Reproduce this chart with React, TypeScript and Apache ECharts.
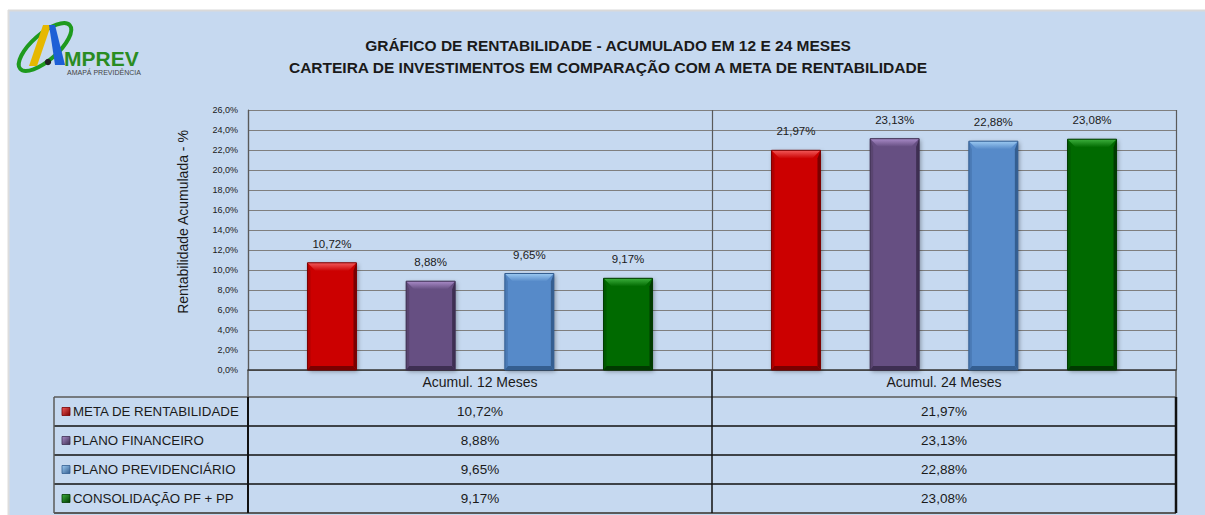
import React, { useEffect, useRef } from "react";
import * as echarts from "echarts";

const categories = ["Acumul. 12 Meses", "Acumul. 24 Meses"];
const seriesNames = [
  "META DE RENTABILIDADE",
  "PLANO FINANCEIRO",
  "PLANO PREVIDENCIÁRIO",
  "CONSOLIDAÇÃO PF + PP",
];
const metaRentabilidade = [10.72, 21.97];
const planoFinanceiro = [8.88, 23.13];
const planoPrevidenciario = [9.65, 22.88];
const consolidacao = [9.17, 23.08];
const seriesValues = [metaRentabilidade, planoFinanceiro, planoPrevidenciario, consolidacao];

const titleLines = [
  "GRÁFICO DE RENTABILIDADE - ACUMULADO EM 12 E 24 MESES",
  "CARTEIRA DE INVESTIMENTOS EM COMPARAÇÃO COM A META DE RENTABILIDADE",
];
const yAxisName = "Rentabilidade Acumulada - %";
const yMin = 0;
const yMax = 26;
const yInterval = 2;

const palette = [
  { main: "#CC0404", light: "#F25A5A", side: "#B00000", dark: "#7A0000" },
  { main: "#664F82", light: "#A98BC8", side: "#594570", dark: "#3E2F52" },
  { main: "#568AC9", light: "#9CCAF2", side: "#4A7AB5", dark: "#345E90" },
  { main: "#016A01", light: "#3DB03D", side: "#005A00", dark: "#003A00" },
];

const FONT = '"Liberation Sans", Arial, sans-serif';
const fmt = (v: number) => v.toFixed(2).replace(".", ",") + "%";

// layout
const GRID_LEFT = 248;
const GRID_RIGHT_X = 1176;
const GRID_TOP = 110;
const GRID_BOTTOM_Y = 370;
const W = 1205;
const H = 515;

const makeRender = (si: number) => (params: any, api: any) => {
  const cat = api.value(0);
  const val = api.value(1);
  const top = api.coord([cat, val]);
  const base = api.coord([cat, 0]);
  const band = api.size([1, 0])[0];
  const step = band * 0.2127;
  const w = band * 0.1056;
  const cx = top[0] + (si - 1.5) * step;
  const x0 = cx - w / 2;
  const x1 = cx + w / 2;
  const y0 = top[1];
  const y1 = base[1];
  const h = y1 - y0;
  const bv = 8;
  const sv = 3;
  const bb = 4;
  const p = palette[si];
  return {
    type: "group",
    children: [
      {
        type: "rect",
        shape: { x: x0, y: y0, width: w, height: h },
        style: {
          fill: p.main,
          shadowBlur: 4,
          shadowColor: "rgba(0,0,0,0.35)",
          shadowOffsetX: 1.5,
          shadowOffsetY: 1.5,
        },
      },
      {
        type: "polygon",
        shape: { points: [[x0, y0], [x0 + sv, y0 + bv], [x0 + sv, y1 - bb], [x0, y1]] },
        style: { fill: p.side },
      },
      {
        type: "polygon",
        shape: { points: [[x1, y0], [x1 - sv, y0 + bv], [x1 - sv, y1 - bb], [x1, y1]] },
        style: { fill: p.dark },
      },
      {
        type: "polygon",
        shape: { points: [[x0, y1], [x0 + sv, y1 - bb], [x1 - sv, y1 - bb], [x1, y1]] },
        style: { fill: p.dark },
      },
      {
        type: "polygon",
        shape: { points: [[x0, y0], [x1, y0], [x1 - bv, y0 + bv], [x0 + bv, y0 + bv]] },
        style: {
          fill: new echarts.graphic.LinearGradient(0, 0, 0, 1, [
            { offset: 0, color: p.light },
            { offset: 1, color: p.main },
          ]),
        },
      },
      {
        type: "rect",
        shape: { x: x0, y: y0, width: w, height: h },
        style: { fill: "none", stroke: p.dark, lineWidth: 1 },
      },
      {
        type: "text",
        x: cx,
        y: y0 - 19,
        style: {
          text: fmt(val),
          align: "center",
          verticalAlign: "middle",
          fill: "#1a1a1a",
          font: `11.5px ${FONT}`,
        },
      },
    ],
  };
};

export default function App() {
  const ref = useRef<HTMLDivElement>(null);

  useEffect(() => {
    if (!ref.current) return;
    const chart = echarts.init(ref.current, undefined, { renderer: "svg" });

    const bandW = (GRID_RIGHT_X - GRID_LEFT) / categories.length;
    const colCenters = categories.map((_, i) => GRID_LEFT + bandW * (i + 0.5));
    const rowTops = [397, 426, 455, 484, 513];
    const rowCenters = [0, 1, 2, 3].map((i) => (rowTops[i] + rowTops[i + 1]) / 2);

    const graphics: any[] = [];
    // page frame
    graphics.push(
      { type: "rect", shape: { x: 0, y: 0, width: W, height: 10 }, style: { fill: "#ffffff" }, silent: true },
      { type: "rect", shape: { x: 0, y: 0, width: 8, height: H }, style: { fill: "#ffffff" }, silent: true },
      { type: "line", shape: { x1: 8, y1: 10.5, x2: W, y2: 10.5 }, style: { stroke: "#D9D9D9", lineWidth: 2 } },
      { type: "line", shape: { x1: 8.5, y1: 10, x2: 8.5, y2: H }, style: { stroke: "#DDDDDD", lineWidth: 2 } }
    );
    // logo
    graphics.push(
      {
        type: "ellipse",
        shape: { cx: 0, cy: 0, rx: 33, ry: 13 },
        x: 45,
        y: 47,
        rotation: 0.72,
        style: { fill: "none", stroke: "#1E9A1E", lineWidth: 4 },
      },
      {
        type: "polygon",
        shape: { points: [[43, 25], [51, 25], [37, 66], [29, 66]] },
        style: { fill: "#E6B800" },
      },
      {
        type: "polygon",
        shape: { points: [[49, 25], [55, 25], [65, 65], [55, 65]] },
        style: { fill: "#1D5FD6" },
      },
      { type: "circle", shape: { cx: 48, cy: 62, r: 3.2 }, style: { fill: "#222" } },
      {
        type: "text",
        x: 64,
        y: 58,
        style: { text: "MPREV", font: `bold 21px ${FONT}`, fill: "#2A8C22", verticalAlign: "middle" },
      },
      {
        type: "text",
        x: 67,
        y: 72,
        style: { text: "AMAPÁ PREVIDÊNCIA", font: `7px ${FONT}`, fill: "#444", verticalAlign: "middle" },
      }
    );
    // titles
    titleLines.forEach((t, i) => {
      graphics.push({
        type: "text",
        x: 608,
        y: 45 + i * 22,
        style: {
          text: t,
          font: `bold 15.5px ${FONT}`,
          fill: "#1a1a1a",
          align: "center",
          verticalAlign: "middle",
        },
      });
    });
    // y-axis name
    graphics.push({
      type: "text",
      x: 183,
      y: 222,
      rotation: Math.PI / 2,
      style: {
        text: yAxisName,
        font: `14px ${FONT}`,
        fill: "#1a1a1a",
        align: "center",
        verticalAlign: "middle",
      },
    });
    // table lines
    const dark = "#111111";
    const gray = "#5a5a5a";
    graphics.push(
      { type: "line", shape: { x1: 54, y1: 397, x2: GRID_RIGHT_X, y2: 397 }, style: { stroke: gray, lineWidth: 1.5 } },
      { type: "line", shape: { x1: 54, y1: 426, x2: GRID_RIGHT_X, y2: 426 }, style: { stroke: dark, lineWidth: 1.5 } },
      { type: "line", shape: { x1: 54, y1: 455, x2: GRID_RIGHT_X, y2: 455 }, style: { stroke: dark, lineWidth: 1.5 } },
      { type: "line", shape: { x1: 54, y1: 484, x2: GRID_RIGHT_X, y2: 484 }, style: { stroke: dark, lineWidth: 1.5 } },
      { type: "line", shape: { x1: 54, y1: 513, x2: GRID_RIGHT_X, y2: 513 }, style: { stroke: gray, lineWidth: 2 } },
      { type: "line", shape: { x1: 54, y1: 397, x2: 54, y2: 513 }, style: { stroke: gray, lineWidth: 1.5 } },
      { type: "line", shape: { x1: GRID_LEFT, y1: 370, x2: GRID_LEFT, y2: 397 }, style: { stroke: gray, lineWidth: 1.5 } },
      { type: "line", shape: { x1: GRID_LEFT, y1: 397, x2: GRID_LEFT, y2: 513 }, style: { stroke: dark, lineWidth: 2 } },
      { type: "line", shape: { x1: 712, y1: 370, x2: 712, y2: 513 }, style: { stroke: dark, lineWidth: 1.5 } },
      { type: "line", shape: { x1: GRID_RIGHT_X, y1: 370, x2: GRID_RIGHT_X, y2: 397 }, style: { stroke: gray, lineWidth: 1.5 } },
      { type: "line", shape: { x1: GRID_RIGHT_X, y1: 397, x2: GRID_RIGHT_X, y2: 513 }, style: { stroke: dark, lineWidth: 2.5 } }
    );
    // table legend + values
    seriesNames.forEach((name, si) => {
      const cy = rowCenters[si];
      const p = palette[si];
      graphics.push(
        {
          type: "rect",
          shape: { x: 62, y: cy - 4, width: 8, height: 8 },
          style: {
            fill: new echarts.graphic.LinearGradient(0, 0, 1, 1, [
              { offset: 0, color: p.light },
              { offset: 1, color: p.dark },
            ]),
            stroke: p.dark,
            lineWidth: 0.8,
          },
        },
        {
          type: "text",
          x: 73,
          y: cy,
          style: { text: name, font: `13.3px ${FONT}`, fill: "#1a1a1a", verticalAlign: "middle" },
        }
      );
      seriesValues[si].forEach((v, ci) => {
        graphics.push({
          type: "text",
          x: colCenters[ci],
          y: cy,
          style: {
            text: fmt(v),
            font: `13.5px ${FONT}`,
            fill: "#1a1a1a",
            align: "center",
            verticalAlign: "middle",
          },
        });
      });
    });

    chart.setOption({
      animation: false,
      backgroundColor: "#C6D9F0",
      grid: {
        left: GRID_LEFT,
        right: W - GRID_RIGHT_X,
        top: GRID_TOP,
        bottom: H - GRID_BOTTOM_Y,
        containLabel: false,
      },
      xAxis: {
        type: "category",
        data: categories,
        boundaryGap: true,
        axisLine: { show: true, lineStyle: { color: "#333333", width: 1.5 } },
        axisTick: { show: false },
        axisLabel: { fontSize: 14, color: "#1a1a1a", margin: 5, fontFamily: FONT },
        splitLine: { show: true, lineStyle: { color: "#5a5a5a", width: 1.2 } },
      },
      yAxis: {
        type: "value",
        min: yMin,
        max: yMax,
        interval: yInterval,
        axisLine: { show: true, lineStyle: { color: "#5a5a5a", width: 1.2 } },
        axisTick: { show: false },
        axisLabel: {
          fontSize: 9,
          color: "#1a1a1a",
          margin: 10,
          fontFamily: FONT,
          formatter: (v: number) => v.toFixed(1).replace(".", ",") + "%",
        },
        splitLine: { show: true, lineStyle: { color: "#7f7f7f", width: 1 } },
      },
      series: seriesValues.map((vals, si) => ({
        type: "custom",
        name: seriesNames[si],
        renderItem: makeRender(si),
        encode: { x: 0, y: 1 },
        data: vals.map((v, i) => [i, v]),
        z: 3,
      })),
      graphic: graphics,
    });

    return () => chart.dispose();
  }, []);

  return (
    <div
      ref={ref}
      style={{ position: "absolute", left: 0, top: 0, width: W, height: H }}
    />
  );
}
